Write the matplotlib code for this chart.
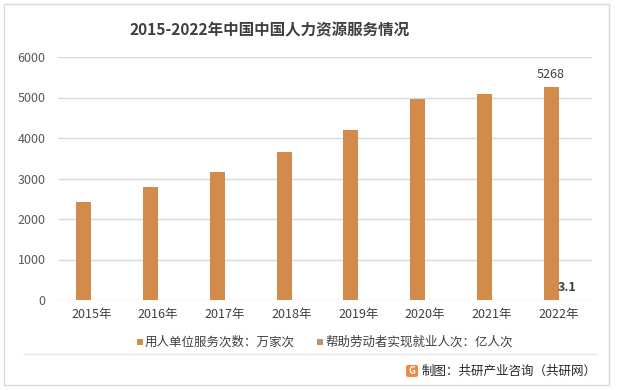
import matplotlib
matplotlib.use("Agg")
import matplotlib.pyplot as plt
from matplotlib.patches import Rectangle, FancyBboxPatch
import numpy as np

plt.rcParams['font.family'] = ['Noto Sans CJK SC', 'DejaVu Sans']

years = ["2015年", "2016年", "2017年", "2018年", "2019年", "2020年", "2021年", "2022年"]
employer_services = [2420, 2790, 3160, 3650, 4200, 4960, 5090, 5268]   # 万家次
workers_helped = [2.0, 2.3, 2.3, 2.3, 2.6, 2.9, 3.0, 3.1]              # 亿人次
series_names = ["用人单位服务次数：万家次", "帮助劳动者实现就业人次：亿人次"]
yticks = [0, 1000, 2000, 3000, 4000, 5000, 6000]

c1 = "#D38B4C"
c2 = "#C0916F"
W, H = 617, 390
fig = plt.figure(figsize=(W / 100, H / 100), dpi=100)

# outer border
fig.patches.append(Rectangle((4 / W, 5 / H), (609 - 4) / W, (386 - 5) / H, transform=fig.transFigure,
                             fill=False, edgecolor="#D9D9D9", linewidth=1))

ax = fig.add_axes([58 / W, 1 - 300 / H, (592 - 58) / W, (300 - 57) / H])
x = np.arange(len(years))
bw = 0.225
b1 = ax.bar(x - bw / 2, employer_services, bw, color=c1, zorder=3)
b2 = ax.bar(x + bw / 2, workers_helped, bw, color=c2, zorder=3)

ax.set_xlim(-0.5, len(years) - 0.5)
ax.set_ylim(0, 6000)
ax.set_yticks(yticks)
ax.set_yticklabels([str(v) for v in yticks], fontsize=9, color="#595959")
ax.set_xticks(x)
ax.set_xticklabels(years, fontsize=9, color="#404040")
ax.tick_params(length=0)
ax.tick_params(axis='y', pad=9)
ax.tick_params(axis='x', pad=6)
ax.grid(axis='y', color="#D9D9D9", linewidth=1, zorder=0)
for s in ax.spines.values():
    s.set_visible(False)

ax.annotate(str(employer_services[-1]), (x[-1] - bw / 2, employer_services[-1]), xytext=(0, 4),
            textcoords="offset points", ha="center", va="bottom", fontsize=9, color="#404040")
ax.annotate(str(workers_helped[-1]), (x[-1] + bw / 2, workers_helped[-1]), xytext=(1, 4),
            textcoords="offset points", ha="center", va="bottom", fontsize=9, color="#404040",
            fontweight="bold")

fig.text(270 / W, 1 - 30 / H, "2015-2022年中国中国人力资源服务情况", ha="center", va="center",
         fontsize=11.2, fontweight="bold", color="#3F3F3F")

# legend
for sx, tx, col, name in [(137, 145, c1, series_names[0]), (317, 325, c2, series_names[1])]:
    fig.patches.append(Rectangle((sx / W, 1 - 345 / H), 6 / W, 6 / H, transform=fig.transFigure,
                                 facecolor=col, edgecolor="none"))
    fig.text(tx / W, 1 - 342 / H, name, ha="left", va="center", fontsize=9, color="#404040")

# separator
fig.add_artist(plt.Line2D([24 / W, 597 / W], [1 - 354 / H, 1 - 354 / H], color="#E5E5E5", linewidth=1))

# footer
fig.patches.append(FancyBboxPatch((406 / W, 1 - 377 / H), 12 / W, 12 / H, transform=fig.transFigure,
                                  boxstyle="round,pad=0.0,rounding_size=0.004", facecolor="#F08A3C",
                                  edgecolor="none"))
fig.text(412 / W, 1 - 371 / H, "G", ha="center", va="center", fontsize=7, fontweight="bold", color="white")
fig.text(597 / W, 1 - 371 / H, "制图：共研产业咨询（共研网）", ha="right", va="center", fontsize=9,
         color="#262626")

fig.savefig("out.png", dpi=100)
